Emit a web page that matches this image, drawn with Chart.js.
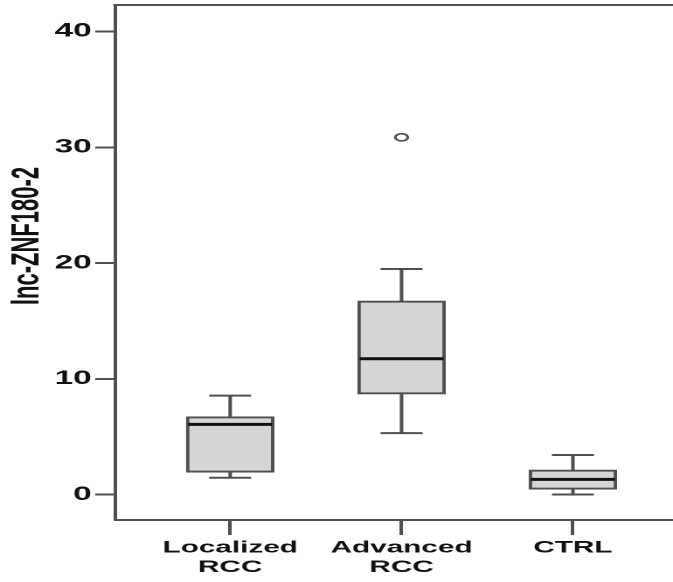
<!DOCTYPE html>
<html>
<head>
<meta charset="utf-8">
<script src="https://cdn.jsdelivr.net/npm/chart.js@4.4.1/dist/chart.umd.min.js"></script>
<style>
  html, body { margin: 0; padding: 0; background: #fff; overflow: hidden; }
  /* the reference is stretched sideways, so draw narrow and widen it */
  #wrap {
    position: absolute; left: 0; top: 0;
    width: 385px; height: 582px;
    transform: scaleX(1.748); transform-origin: 0 0;
  }
</style>
</head>
<body>
<div id="wrap"><canvas id="c"></canvas></div>
<script>
const categories = [["Localized", "RCC"], ["Advanced", "RCC"], ["CTRL"]];
const positions = [1, 2, 3];
const whiskerLow = [1.45, 5.3, 0.0];
const q1 = [1.92, 8.68, 0.45];
const median = [6.06, 11.73, 1.31];
const q3 = [6.72, 16.72, 2.12];
const whiskerHigh = [8.54, 19.48, 3.41];
const outliers = [[], [30.86], []];
const yTicks = [0, 10, 20, 30, 40];
const yTitle = "lnc-ZNF180-2";

(() => {
  const grey = "#4f4f4f";
  const font = "'Liberation Sans', Arial, sans-serif";

  // whiskers, caps, medians and the top frame line
  const boxExtras = {
    id: "boxExtras",
    beforeDatasetsDraw(chart) {
      const { ctx, scales: { x, y } } = chart;
      ctx.save();
      ctx.strokeStyle = grey;
      ctx.lineWidth = 2;
      positions.forEach((p, i) => {
        const cx = x.getPixelForValue(p);
        const cap = 12;
        ctx.beginPath();
        ctx.moveTo(cx, y.getPixelForValue(q3[i]));
        ctx.lineTo(cx, y.getPixelForValue(whiskerHigh[i]));
        ctx.moveTo(cx - cap, y.getPixelForValue(whiskerHigh[i]));
        ctx.lineTo(cx + cap, y.getPixelForValue(whiskerHigh[i]));
        ctx.moveTo(cx, y.getPixelForValue(q1[i]));
        ctx.lineTo(cx, y.getPixelForValue(whiskerLow[i]));
        ctx.moveTo(cx - cap, y.getPixelForValue(whiskerLow[i]));
        ctx.lineTo(cx + cap, y.getPixelForValue(whiskerLow[i]));
        ctx.stroke();
      });
      ctx.restore();
    },
    afterDatasetsDraw(chart) {
      const { ctx, chartArea, scales: { x, y } } = chart;
      ctx.save();
      ctx.strokeStyle = "#111";
      ctx.lineWidth = 3;
      positions.forEach((p, i) => {
        const cx = x.getPixelForValue(p);
        const my = y.getPixelForValue(median[i]);
        ctx.beginPath();
        ctx.moveTo(cx - 24, my);
        ctx.lineTo(cx + 24, my);
        ctx.stroke();
      });
      ctx.strokeStyle = grey;
      ctx.lineWidth = 2;
      ctx.beginPath();
      ctx.moveTo(chartArea.left - 1, chartArea.top);
      ctx.lineTo(chartArea.right + 2, chartArea.top);
      ctx.stroke();

      // axis title, placed where the reference has it
      ctx.fillStyle = "#111";
      ctx.font = `bold 22px ${font}`;
      ctx.textAlign = "center";
      ctx.textBaseline = "middle";
      ctx.translate(16, 236);
      ctx.rotate(-Math.PI / 2);
      ctx.fillText(yTitle, 0, 0);
      ctx.restore();
    },
  };

  const outlierPoints = [];
  outliers.forEach((list, i) => {
    list.forEach((v) => outlierPoints.push({ x: positions[i], y: v }));
  });

  // eslint-disable-next-line no-new
  new Chart(document.getElementById("c"), {
    type: "bar",
    plugins: [boxExtras],
    data: {
      datasets: [
        {
          label: "box",
          data: positions.map((p, i) => ({ x: p, y: [q1[i], q3[i]] })),
          backgroundColor: "#d5d5d5",
          borderColor: grey,
          borderWidth: 2,
          borderSkipped: false,
          barThickness: 50,
        },
        {
          type: "scatter",
          label: "outliers",
          data: outlierPoints,
          pointStyle: "circle",
          pointRadius: 3.6,
          pointBorderWidth: 1.6,
          pointBorderColor: grey,
          pointBackgroundColor: "#fff",
        },
      ],
    },
    options: {
      animation: false,
      responsive: true,
      maintainAspectRatio: false,
      devicePixelRatio: 2,
      // the scatter point would otherwise pad the chart area
      layout: { autoPadding: false, padding: { top: 5, right: 0, bottom: 0, left: 0 } },
      plugins: {
        legend: { display: false },
        tooltip: { enabled: false },
      },
      scales: {
        x: {
          type: "linear",
          offset: false,
          min: 0.328,
          max: 3.584,
          afterBuildTicks: (scale) => {
            scale.ticks = positions.map((v) => ({ value: v }));
          },
          afterFit: (scale) => {
            scale.height = 62;
            scale.paddingLeft = 0;
            scale.paddingRight = 0;
          },
          ticks: {
            color: "#111",
            padding: 3,
            maxRotation: 0,
            autoSkip: false,
            font: { family: font, size: 17, weight: "bold", lineHeight: 1.15 },
            callback: (v) => categories[positions.indexOf(v)],
          },
          grid: {
            offset: false,
            drawOnChartArea: false,
            drawTicks: true,
            tickLength: 15,
            color: grey,
            lineWidth: 2,
          },
          border: { display: true, color: grey, width: 2 },
        },
        y: {
          min: -2.2,
          max: 42.29,
          afterBuildTicks: (scale) => {
            scale.ticks = yTicks.map((v) => ({ value: v }));
          },
          afterFit: (scale) => {
            scale.width = 65.8;
            scale.paddingTop = 0;
            scale.paddingBottom = 0;
          },
          ticks: {
            color: "#111",
            padding: 2,
            font: { family: font, size: 19, weight: "bold" },
          },
          grid: {
            drawOnChartArea: false,
            drawTicks: true,
            tickLength: 11.4,
            color: grey,
            lineWidth: 2,
          },
          border: { display: true, color: grey, width: 2 },
        },
      },
    },
  });
})();
</script>
</body>
</html>
